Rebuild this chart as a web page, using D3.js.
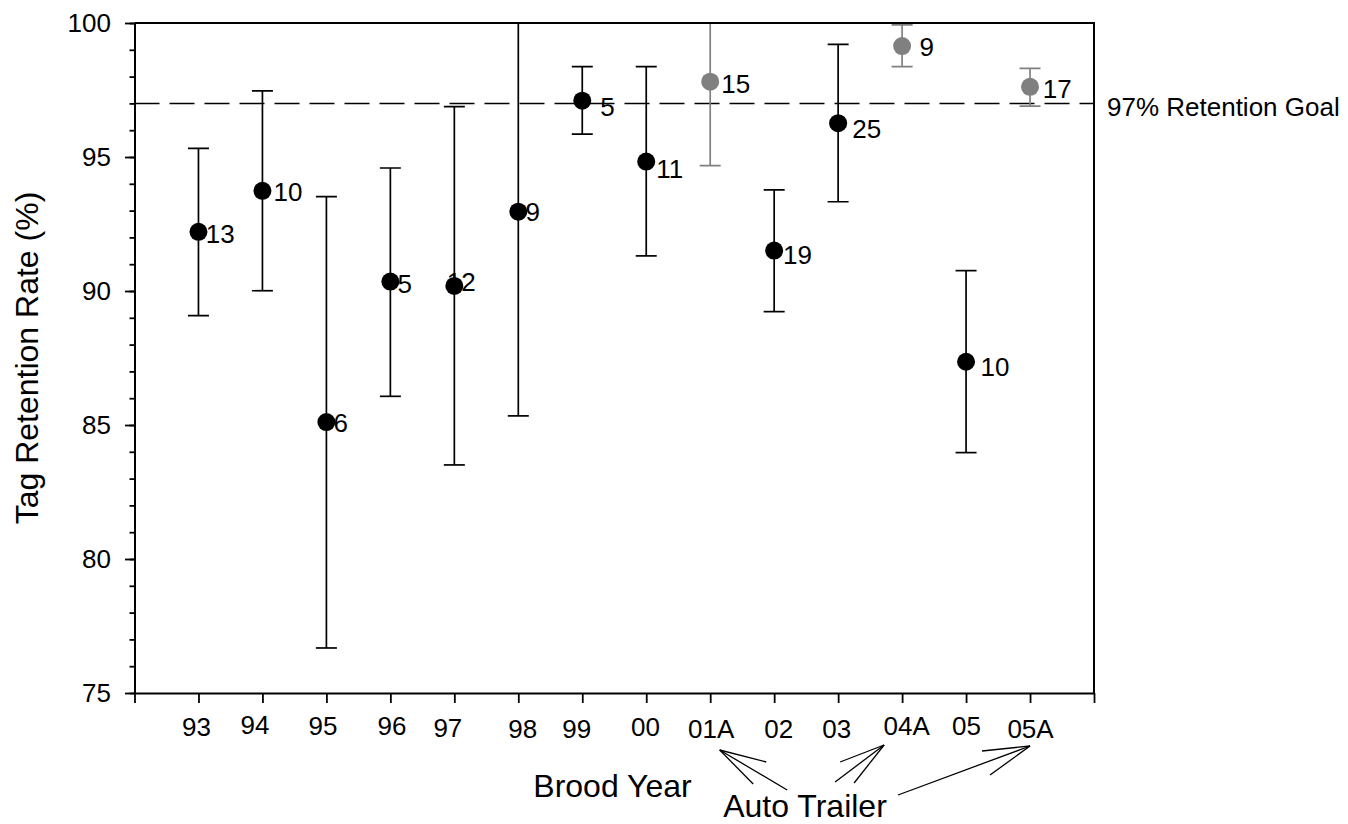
<!DOCTYPE html>
<html>
<head>
<meta charset="utf-8">
<script src="https://cdn.jsdelivr.net/npm/d3@7"></script>
<style>
  body { margin: 0; background: #fff; }
  svg { display: block; font-family: "Liberation Sans", Arial, sans-serif; }
</style>
</head>
<body>
<svg id="chart" width="1348" height="824"></svg>
<script>
// brood years, auto trailer groups get the A suffix
const years = ['93', '94', '95', '96', '97', '98', '99', '00', '01A', '02', '03', '04A', '05', '05A']
const autoTrailer = ['01A', '04A', '05A']
// tag retention rate (%) with upper / lower bounds
const rate  = [92.21, 93.74, 85.11, 90.35, 90.19, 92.96, 97.10, 94.83, 97.81, 91.51, 96.26, 99.14, 87.36, 97.62]
const upper = [95.32, 97.47, 93.52, 94.59, 96.88, 100.6, 98.37, 98.37, 100.94, 93.77, 99.20, 99.93, 90.76, 98.31]
const lower = [89.08, 90.01, 76.68, 86.07, 83.51, 85.34, 95.85, 91.31, 94.68, 89.23, 93.33, 98.37, 83.97, 96.90]
// sample size shown next to each point
const sampleN = ['13', '10', '6', '5', '12', '9', '5', '11', '15', '19', '25', '9', '10', '17']
const yTicks = [75, 80, 85, 90, 95, 100]
const goal = 97

// small hand nudges so the labels sit where they do in the original
const pointLabelNudge = [[7.4, 1.5], [11, 1], [7.2, 1], [7.2, 2.3], [-7.5, -4.3], [7.3, 0], [18, 6],
  [10, 6.6], [11, 2], [8.8, 4], [14.2, 5], [17.3, 0.7], [14.4, 5], [12.7, 1.6]]
const tickLabelNudge = [[-2.5, -0.3], [-8, -2], [-4, -1.3], [1.2, -1.3], [-7, 0.7], [4, 1.3], [-6, 1.3],
  [-1.3, -0.3], [0.5, 1.4], [4, 2], [-2, 2], [4, -1.4], [0, -1.4], [0, 1.4]]

const svg = d3.select('#chart')

const margin = { top: 23, right: 254, bottom: 131, left: 134.5 }
const width = 1348 - margin.left - margin.right
const height = 824 - margin.top - margin.bottom

const xScale = d3.scaleLinear()
  .domain([0, years.length + 1])
  .range([margin.left, margin.left + width])

const yScale = d3.scaleLinear()
  .domain([75, 100])
  .range([margin.top + height, margin.top])

const gray = '#808080'
const colourOf = i => autoTrailer.includes(years[i]) ? gray : '#000'

svg.append('clipPath')
  .attr('id', 'plot-clip')
  .append('rect')
  .attr('x', margin.left)
  .attr('y', margin.top)
  .attr('width', width)
  .attr('height', height)

// goal line
svg.append('line')
  .attr('x1', margin.left)
  .attr('x2', margin.left + width)
  .attr('y1', yScale(goal))
  .attr('y2', yScale(goal))
  .attr('stroke', '#000')
  .attr('stroke-width', 1.5)
  .attr('stroke-dasharray', '25,10')

svg.append('text')
  .attr('x', margin.left + width + 13)
  .attr('y', 116)
  .attr('font-size', 26)
  .text('97% Retention Goal')

// error bars
const plot = svg.append('g').attr('clip-path', 'url(#plot-clip)')
const capHalf = 10.5

const bars = plot.selectAll('g.err')
  .data(years)
  .enter()
  .append('g')
  .attr('class', 'err')
  .attr('stroke', (d, i) => colourOf(i))
  .attr('stroke-width', 1.7)

bars.append('line')
  .attr('x1', (d, i) => xScale(i + 1))
  .attr('x2', (d, i) => xScale(i + 1))
  .attr('y1', (d, i) => yScale(lower[i]))
  .attr('y2', (d, i) => yScale(upper[i]))

bars.append('line')
  .attr('x1', (d, i) => xScale(i + 1) - capHalf)
  .attr('x2', (d, i) => xScale(i + 1) + capHalf)
  .attr('y1', (d, i) => yScale(upper[i]))
  .attr('y2', (d, i) => yScale(upper[i]))

bars.append('line')
  .attr('x1', (d, i) => xScale(i + 1) - capHalf)
  .attr('x2', (d, i) => xScale(i + 1) + capHalf)
  .attr('y1', (d, i) => yScale(lower[i]))
  .attr('y2', (d, i) => yScale(lower[i]))

// sample size labels (drawn under the dots)
svg.selectAll('text.n')
  .data(sampleN)
  .enter()
  .append('text')
  .attr('class', 'n')
  .attr('x', (d, i) => xScale(i + 1) + pointLabelNudge[i][0])
  .attr('y', (d, i) => yScale(rate[i]) + pointLabelNudge[i][1])
  .attr('dy', '0.36em')
  .attr('font-size', 26)
  .text(d => d)

plot.selectAll('circle')
  .data(rate)
  .enter()
  .append('circle')
  .attr('cx', (d, i) => xScale(i + 1))
  .attr('cy', d => yScale(d))
  .attr('r', 9)
  .attr('fill', (d, i) => colourOf(i))

// axes
const minorAxis = d3.axisLeft(yScale)
  .tickValues(d3.range(75, 101))
  .tickSize(5)
  .tickFormat('')
svg.append('g')
  .attr('transform', `translate(${margin.left}, 0)`)
  .call(minorAxis)
  .call(g => g.select('.domain').remove())
  .selectAll('line').attr('stroke-width', 1.8)

const yAxis = d3.axisLeft(yScale)
  .tickValues(yTicks)
  .tickSize(9.5)
  .tickPadding(14)
  .tickSizeOuter(0)
const yG = svg.append('g')
  .attr('transform', `translate(${margin.left}, 0)`)
  .call(yAxis)
yG.select('.domain').attr('stroke-width', 2)
yG.selectAll('line').attr('stroke-width', 1.8)
yG.selectAll('text').attr('font-size', 26).attr('font-family', null)

const xAxis = d3.axisBottom(xScale)
  .tickValues(d3.range(0, years.length + 2))
  .tickSize(10)
  .tickSizeOuter(0)
  .tickFormat(i => years[i - 1] || '')
const xG = svg.append('g')
  .attr('transform', `translate(0, ${margin.top + height})`)
  .call(xAxis)
xG.select('.domain').attr('stroke-width', 2)
xG.selectAll('line').attr('stroke-width', 1.8)
xG.selectAll('text')
  .attr('font-size', 26)
  .attr('font-family', null)
  .attr('dy', null)
  .attr('y', i => 43.3 + (tickLabelNudge[i - 1] ? tickLabelNudge[i - 1][1] : 0))
  .attr('dx', i => tickLabelNudge[i - 1] ? tickLabelNudge[i - 1][0] : 0)

// frame top and right
svg.append('path')
  .attr('d', `M${margin.left},${margin.top}H${margin.left + width}V${margin.top + height}`)
  .attr('fill', 'none')
  .attr('stroke', '#000')
  .attr('stroke-width', 2)

// titles
svg.append('text')
  .attr('transform', `translate(38, ${margin.top + height / 2}) rotate(-90)`)
  .attr('text-anchor', 'middle')
  .attr('font-size', 32)
  .text('Tag Retention Rate (%)')

svg.append('text')
  .attr('x', 612.5)
  .attr('y', 797)
  .attr('text-anchor', 'middle')
  .attr('font-size', 32)
  .text('Brood Year')

svg.append('text')
  .attr('x', 805)
  .attr('y', 817)
  .attr('text-anchor', 'middle')
  .attr('font-size', 32)
  .text('Auto Trailer')

// arrows from "Auto Trailer" to the auto trailer years
const arrows = [
  { year: '01A', tip: [9.5, 750], ends: [[46.5, 12], [33.5, 34], [67.5, 40]] },
  { year: '04A', tip: [-18, 745], ends: [[-44, 17], [-49, 37], [-30, 38]] },
  { year: '05A', tip: [0, 746], ends: [[-48, 5], [-40, 29], [-132, 49]] }
]
arrows.forEach(a => {
  const tx = xScale(years.indexOf(a.year) + 1) + a.tip[0]
  const ty = a.tip[1]
  a.ends.forEach(e => {
    svg.append('line')
      .attr('x1', tx).attr('y1', ty)
      .attr('x2', tx + e[0]).attr('y2', ty + e[1])
      .attr('stroke', '#000')
      .attr('stroke-width', 1.3)
  })
})
</script>
</body>
</html>
